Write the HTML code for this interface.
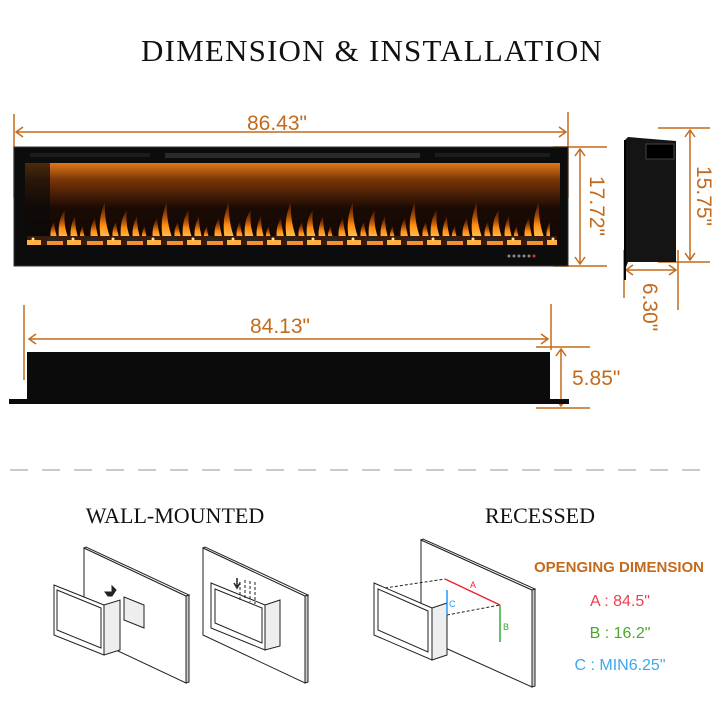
<!DOCTYPE html>
<html><head><meta charset="utf-8"><style>
html,body{margin:0;padding:0;background:#fff;width:720px;height:720px;overflow:hidden}
svg{display:block}
.o{fill:#c46a1c;font-family:"Liberation Sans",sans-serif;font-size:21px}
</style></head><body>
<svg width="720" height="720" viewBox="0 0 720 720" xmlns="http://www.w3.org/2000/svg">
<defs>
<linearGradient id="glow" x1="0" y1="0" x2="0" y2="1">
<stop offset="0" stop-color="#e07818"/><stop offset="0.2" stop-color="#7a3608"/><stop offset="0.55" stop-color="#1a0a04"/><stop offset="1" stop-color="#140804"/>
</linearGradient>
<linearGradient id="fl" x1="0" y1="1" x2="0" y2="0">
<stop offset="0" stop-color="#ffd060"/><stop offset="0.4" stop-color="#ff8a10"/><stop offset="1" stop-color="#a03000" stop-opacity="0.3"/>
</linearGradient>
<pattern id="flames" x="25" y="190" width="62" height="55" patternUnits="userSpaceOnUse">
<path d="M4 50 Q2 38 8 28 Q9 40 12 50Z" fill="url(#fl)"/>
<path d="M14 50 Q10 30 18 12 Q17 32 24 50Z" fill="url(#fl)"/>
<path d="M26 50 Q24 40 29 32 Q30 42 33 50Z" fill="url(#fl)"/>
<path d="M34 50 Q32 30 40 20 Q38 36 44 50Z" fill="url(#fl)"/>
<path d="M46 50 Q44 38 50 26 Q50 40 54 50Z" fill="url(#fl)"/>
<path d="M55 50 Q54 42 58 36 Q58 44 61 50Z" fill="url(#fl)"/>
</pattern>
<pattern id="embers" x="25" y="236" width="40" height="10" patternUnits="userSpaceOnUse">
<rect width="40" height="10" fill="#3a1a0a"/>
<rect x="2" y="4" width="14" height="5" fill="#ffb040"/>
<rect x="20" y="2" width="12" height="3" fill="#2a2420"/>
<rect x="22" y="5" width="16" height="4" fill="#f09030"/>
<circle cx="8" cy="3" r="1.5" fill="#ffe0a0"/>
</pattern>
</defs>

<text x="372" y="61" text-anchor="middle" font-family="Liberation Serif,serif" font-size="31" letter-spacing="1.2" fill="#111">DIMENSION &amp; INSTALLATION</text>

<g stroke="#c46a1c" stroke-width="1.5" fill="none">
<line x1="14" y1="114" x2="14" y2="198"/><line x1="568" y1="112" x2="568" y2="198"/>
<line x1="16" y1="132" x2="566" y2="132"/>
<path d="M23 127 L16 132 L23 137 M559 127 L566 132 L559 137"/>
<line x1="553" y1="147" x2="607" y2="147"/><line x1="553" y1="266" x2="607" y2="266"/>
<line x1="580" y1="149" x2="580" y2="264"/>
<path d="M575 156 L580 149 L585 156 M575 257 L580 264 L585 257"/>
<line x1="658" y1="128" x2="710" y2="128"/><line x1="658" y1="262" x2="710" y2="262"/>
<line x1="690" y1="130" x2="690" y2="260"/>
<path d="M685 137 L690 130 L695 137 M685 253 L690 260 L695 253"/>
<line x1="624" y1="250" x2="624" y2="298"/><line x1="678" y1="250" x2="678" y2="310"/>
<line x1="626" y1="270" x2="676" y2="270"/>
<path d="M633 265 L626 270 L633 275 M669 265 L676 270 L669 275"/>
<line x1="24" y1="305" x2="24" y2="380"/><line x1="551" y1="304" x2="551" y2="350"/>
<line x1="29" y1="339" x2="548" y2="339"/>
<path d="M36 334 L29 339 L36 344 M541 334 L548 339 L541 344"/>
<line x1="536" y1="347" x2="590" y2="347"/><line x1="536" y1="408" x2="590" y2="408"/>
<line x1="561" y1="349" x2="561" y2="406"/>
<path d="M556 356 L561 349 L566 356 M556 399 L561 406 L566 399"/>
</g>
<text class="o" x="277" y="130" text-anchor="middle" font-size="22">86.43"</text>
<text class="o" transform="translate(590,206) rotate(90)" text-anchor="middle" font-size="22">17.72"</text>
<text class="o" transform="translate(697,196) rotate(90)" text-anchor="middle" font-size="22">15.75"</text>
<text class="o" transform="translate(643,307) rotate(90)" text-anchor="middle" font-size="22">6.30"</text>
<text class="o" x="280" y="333" text-anchor="middle" font-size="22">84.13"</text>
<text class="o" x="572" y="385" font-size="22">5.85"</text>

<rect x="14" y="147" width="554" height="119" fill="#0c0c0c"/>
<rect x="14" y="147" width="554" height="119" fill="none" stroke="#333" stroke-width="1"/>
<rect x="165" y="153" width="255" height="5" fill="#2a2a2a"/>
<rect x="30" y="153" width="120" height="4" fill="#1c1c1c"/>
<rect x="435" y="153" width="115" height="4" fill="#1c1c1c"/>
<rect x="25" y="163" width="535" height="82" fill="url(#glow)"/>
<rect x="25" y="163" width="25" height="82" fill="#0a0a0a" opacity="0.7"/>
<rect x="50" y="190" width="500" height="52" fill="url(#flames)"/>
<rect x="27" y="236" width="530" height="9" fill="url(#embers)"/>
<g fill="#888"><circle cx="509" cy="256" r="1.5"/><circle cx="514" cy="256" r="1.5"/><circle cx="519" cy="256" r="1.5"/><circle cx="524" cy="256" r="1.5"/><circle cx="529" cy="256" r="1.5"/></g>
<circle cx="534" cy="256" r="1.5" fill="#d33"/>

<path d="M625 140 L628 137 L676 141 L676 262 L628 262 L625 270 Z" fill="#141414"/>
<rect x="646" y="144" width="28" height="15" fill="#000" stroke="#444"/>
<line x1="625" y1="140" x2="625" y2="280" stroke="#000" stroke-width="2"/>

<rect x="27" y="352" width="523" height="48" fill="#0b0b0b"/>
<rect x="9" y="399" width="560" height="5" fill="#0b0b0b"/>

<line x1="10" y1="470" x2="712" y2="470" stroke="#aaa" stroke-width="1.2" stroke-dasharray="18 14"/>

<text x="175" y="523" text-anchor="middle" font-family="Liberation Serif,serif" font-size="22" fill="#111">WALL-MOUNTED</text>
<text x="540" y="523" text-anchor="middle" font-family="Liberation Serif,serif" font-size="22" fill="#111">RECESSED</text>

<g fill="#fff" stroke="#222" stroke-width="1">
<!-- wall 1 -->
<path d="M84 548 L186 596 L186 683 L84 635Z"/><path d="M186 596 L189 595 L189 682 L186 683Z" fill="#ccc"/>
<path d="M84 548 L86 547 L189 595 L186 596Z"/>
<path d="M54 585 L104 605 L104 655 L54 635Z"/><path d="M57 590 L101 608 L101 648 L57 630Z"/>
<path d="M104 605 L120 600 L120 650 L104 655Z" fill="#eee"/>
<path d="M124 597 L144 605 L144 628 L124 620Z" fill="#eee"/>
<path d="M105 592 L112 592 L112 586 L116 590 L112 596 L108 596Z" fill="#222"/>
<!-- wall 2 -->
<path d="M203 548 L305 596 L305 683 L203 635Z"/><path d="M305 596 L308 595 L308 682 L305 683Z" fill="#ccc"/>
<path d="M203 548 L205 547 L308 595 L305 596Z"/>
<path d="M211 583 L265 605 L265 650 L211 628Z"/><path d="M215 589 L262 608 L262 643 L215 623Z"/>
<path d="M265 605 L280 600 L280 646 L265 650Z" fill="#eee"/>
<!-- wall 3 -->
<path d="M421 540 L532 590 L532 687 L421 637Z"/><path d="M532 590 L535 589 L535 686 L532 687Z" fill="#ccc"/>
<path d="M421 540 L423 539 L535 589 L532 590Z"/>
<path d="M374 583 L432 608 L432 660 L374 635Z"/><path d="M378 589 L428 611 L428 652 L378 630Z"/>
<path d="M432 608 L447 603 L447 655 L432 660Z" fill="#eee"/>
</g>
<g stroke="#222" stroke-width="1" stroke-dasharray="3 2" fill="none">
<line x1="240" y1="582" x2="240" y2="600"/><line x1="245" y1="580" x2="245" y2="600"/><line x1="250" y1="581" x2="250" y2="602"/><line x1="255" y1="582" x2="255" y2="604"/>
<line x1="385" y1="588" x2="445" y2="579"/><line x1="447" y1="615" x2="500" y2="605"/>
</g>
<path d="M237 578 L237 586 M234 583 L237 588 L240 583" stroke="#222" stroke-width="1.5" fill="none"/>
<path d="M445 579 L500 605" stroke="#e23" stroke-width="1.5"/>
<path d="M500 605 L500 642" stroke="#3a3" stroke-width="1.5"/>
<path d="M447 590 L447 615" stroke="#29f" stroke-width="1.5"/>
<text x="470" y="588" font-family="Liberation Sans,sans-serif" font-size="9" fill="#e23">A</text>
<text x="503" y="630" font-family="Liberation Sans,sans-serif" font-size="9" fill="#3a3">B</text>
<text x="449" y="607" font-family="Liberation Sans,sans-serif" font-size="9" fill="#29f">C</text>

<text x="619" y="572" text-anchor="middle" font-family="Liberation Sans,sans-serif" font-weight="bold" font-size="15" fill="#c46a1c">OPENGING DIMENSION</text>
<text x="620" y="606" text-anchor="middle" font-family="Liberation Sans,sans-serif" font-size="16" fill="#f04050">A : 84.5"</text>
<text x="620" y="638" text-anchor="middle" font-family="Liberation Sans,sans-serif" font-size="16" fill="#4aa82a">B : 16.2"</text>
<text x="620" y="670" text-anchor="middle" font-family="Liberation Sans,sans-serif" font-size="16" fill="#3aa8f0">C : MIN6.25"</text>
</svg>
</body></html>
